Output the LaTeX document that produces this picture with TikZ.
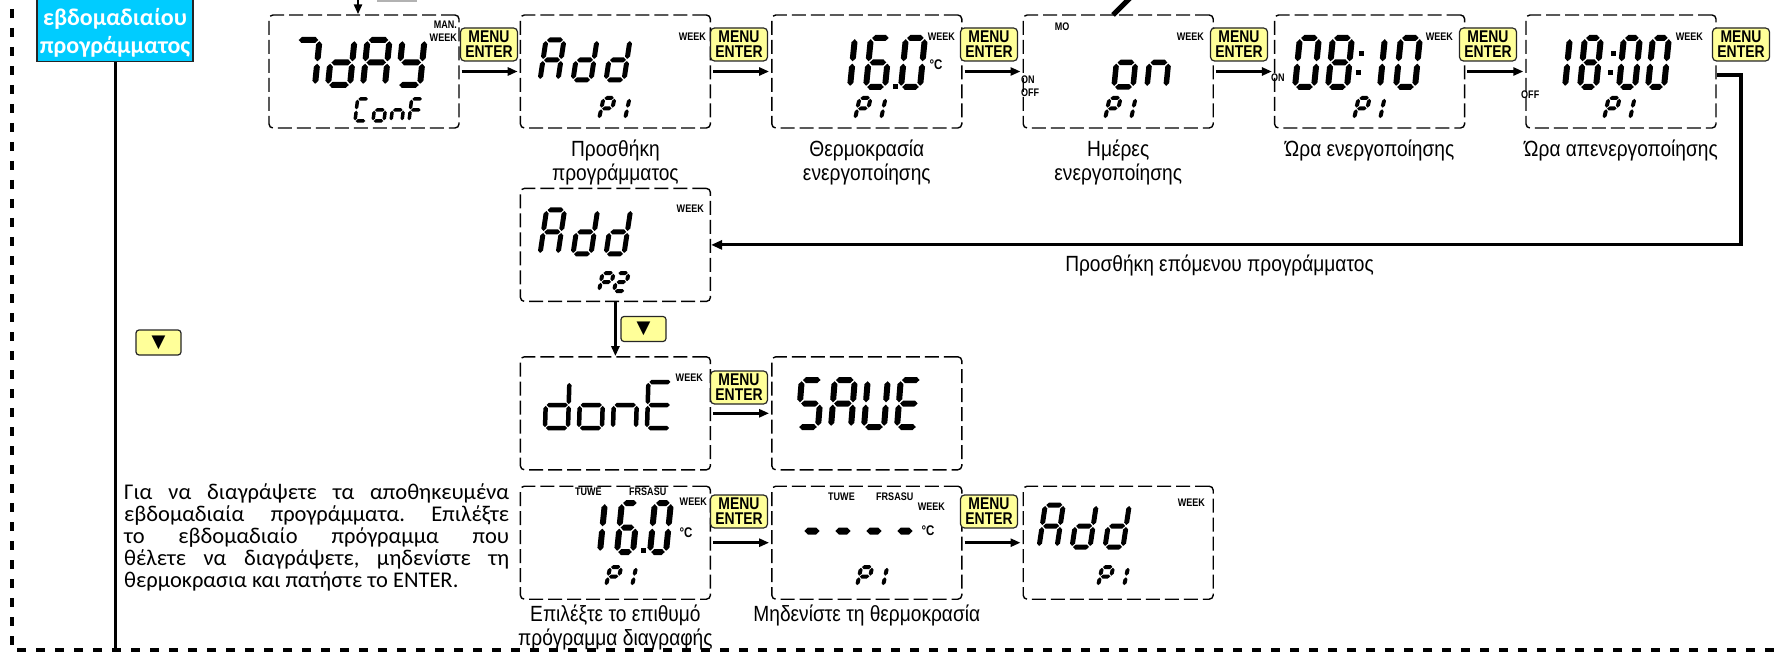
\documentclass[tikz,border=0pt]{standalone}
\usepackage{fontspec}
\setmainfont{Carlito}
\newfontfamily\narrowfont[FakeStretch=0.82]{Liberation Sans}
\newfontfamily\labelfont[FakeStretch=0.87]{Liberation Sans}
\newfontfamily\symbolfont{DejaVu Sans}
\usetikzlibrary{
  arrows.meta,
  positioning,
  calc,
}
\definecolor{btnyellow}{RGB}{255,255,153}
\definecolor{titlecyan}{RGB}{0,204,255}

% seven-segment helpers (local frame: x right, y up, one unit = 1pt)
\newcommand\lcdhseg[1]{%
  \fill (\lcdG,#1) -- (\lcdG+\lcdT/2,#1+\lcdT/2)
    -- (\lcdW-\lcdG-\lcdT/2,#1+\lcdT/2) -- (\lcdW-\lcdG,#1)
    -- (\lcdW-\lcdG-\lcdT/2,#1-\lcdT/2) -- (\lcdG+\lcdT/2,#1-\lcdT/2) -- cycle;}
\newcommand\lcdvseg[3]{%
  \fill (#1,#2+\lcdG) -- (#1+\lcdT/2,#2+\lcdG+\lcdT/2)
    -- (#1+\lcdT/2,#3-\lcdG-\lcdT/2) -- (#1,#3-\lcdG)
    -- (#1-\lcdT/2,#3-\lcdG-\lcdT/2) -- (#1-\lcdT/2,#2+\lcdG+\lcdT/2) -- cycle;}
\newcommand\lcdsega{\lcdhseg{\lcdHt}}
\newcommand\lcdsegg{\lcdhseg{\lcdHt/2}}
\newcommand\lcdsegd{\lcdhseg{0}}
\newcommand\lcdsegb{\lcdvseg{\lcdW}{\lcdHt/2}{\lcdHt}}
\newcommand\lcdsegc{\lcdvseg{\lcdW}{0}{\lcdHt/2}}
\newcommand\lcdsegf{\lcdvseg{0}{\lcdHt/2}{\lcdHt}}
\newcommand\lcdsege{\lcdvseg{0}{0}{\lcdHt/2}}
\newcommand\lcdglyph[2]{\expandafter\def\csname lcdglyph#1\endcsname{#2}}
\lcdglyph{0}{a,b,c,d,e,f}
\lcdglyph{1}{b,c}
\lcdglyph{2}{a,b,g,e,d}
\lcdglyph{6}{a,c,d,e,f,g}
\lcdglyph{7}{a,b,c}
\lcdglyph{8}{a,b,c,d,e,f,g}
\lcdglyph{A}{a,b,c,e,f,g}
\lcdglyph{C}{a,d,e,f}
\lcdglyph{d}{b,c,d,e,g}
\lcdglyph{E}{a,d,e,f,g}
\lcdglyph{F}{a,e,f,g}
\lcdglyph{n}{c,e,g}
\lcdglyph{o}{c,d,e,g}
\lcdglyph{P}{a,b,e,f,g}
\lcdglyph{S}{a,c,d,f,g}
\lcdglyph{U}{b,c,d,e,f}
\lcdglyph{Y}{b,c,d,f,g}
\lcdglyph{-}{g}
% #1 x, #2 baseline y, #3 width, #4 height, #5 stroke, #6 pitch, #7 slant, #8 glyphs
\newcommand\lcdword[8]{%
  \begin{scope}[shift={(#1,#2)}, x=1pt, y=1pt, xslant=#7]
    \def\lcdW{#3}\def\lcdHt{#4}\def\lcdT{#5}\pgfmathsetmacro\lcdG{0.2*#5}
    \foreach \lcdch [count=\lcdi from 0] in {#8} {
      \edef\lcdsegs{\csname lcdglyph\lcdch\endcsname}
      \begin{scope}[xshift=\lcdi*#6]
        \foreach \lcds in \lcdsegs {\csname lcdseg\lcds\endcsname}
      \end{scope}
    }
  \end{scope}}

\tikzset{
  lcdbox/.style={
    rectangle, draw, line width=1.4pt, dash pattern=on 14pt off 5pt,
    rounded corners=4pt, minimum width=190pt, minimum height=113pt, inner sep=0pt
  },
  menubtn/.style={
    rectangle, draw=black!85, line width=1.2pt, fill=btnyellow, rounded corners=4pt,
    minimum width=57pt, minimum height=33pt, inner sep=0pt, align=center,
    font=\narrowfont\bfseries\fontsize{17}{15}\selectfont
  },
  downbtn/.style={
    rectangle, draw=black!85, line width=1.2pt, fill=btnyellow, rounded corners=3pt,
    minimum width=45pt, minimum height=25pt, inner sep=0pt,
    font=\symbolfont\fontsize{18}{18}\selectfont
  },
  lcdtag/.style={inner sep=0pt, font=\narrowfont\bfseries\fontsize{11}{11}\selectfont},
  degtag/.style={inner sep=0pt, font=\narrowfont\bfseries\fontsize{14}{14}\selectfont},
  steplabel/.style={inner sep=0pt, align=center, font=\labelfont\fontsize{22}{24}\selectfont},
  notetext/.style={inner sep=0pt, text width=385pt, align=justify, font=\fontsize{22.5}{22}\selectfont},
  titlebox/.style={
    rectangle, draw=black!85, line width=1.2pt, fill=titlecyan, text=white,
    font=\bfseries\fontsize{24}{28}\selectfont, align=center,
    minimum width=156pt, inner xsep=2pt, inner ysep=4pt
  },
  steparrow/.style={-{Triangle[length=10pt,width=8pt]}, line width=2.6pt, shorten <=2pt, shorten >=2pt},
  looparrow/.style={-{Triangle[length=11pt,width=9pt]}, line width=3.2pt},
  railline/.style={line width=3pt},
  framedash/.style={line width=4pt, dash pattern=on 9pt off 10pt},
}

\begin{document}
\begin{tikzpicture}[x=1pt, y=-1pt]
  \useasboundingbox (0,0) rectangle (1779,652);

  % ── Title and rail ──
  \node[titlebox, anchor=south] (title) at (115,62) {\mbox{}\\εβδομαδιαίου\\προγράμματος};
  \coordinate (railEnd) at (115,660);
  \draw[railline] (title.south) -- (railEnd);

  % ── Row 1: program entry screens ──
  \node[lcdbox] (lcd1) at (364,71.5) {};
  \node[lcdbox, right=60pt of lcd1] (lcd2) {};
  \node[lcdbox, right=60pt of lcd2] (lcd3) {};
  \node[lcdbox, right=60pt of lcd3] (lcd4) {};
  \node[lcdbox, right=60pt of lcd4] (lcd5) {};
  \node[lcdbox, right=60pt of lcd5] (lcd6) {};

  % ── Row 2-4: next program, save, delete ──
  \node[lcdbox, below=59pt of lcd2] (add2) {};
  \node[lcdbox, below=54pt of add2] (done) {};
  \node[lcdbox, right=60pt of done] (save) {};
  \node[lcdbox, below=15pt of done] (del1) {};
  \node[lcdbox, right=60pt of del1] (del2) {};
  \node[lcdbox, right=60pt of del2] (del3) {};

  % ── Screen contents ──
  \lcdword{293}{85}{22}{45}{6}{35}{0.1}{7,d,A,Y}
  \lcdword{355}{121}{11}{22}{3.5}{18}{0.12}{C,o,n,F}
  \node[lcdtag, anchor=east] (man1) at (457,25) {MAN.};
  \node[lcdtag, anchor=east] (week1) at (457,38) {WEEK};

  \lcdword{540}{80}{18}{40}{5}{33}{0.15}{A,d,d}
  \lcdword{599}{119}{11}{21}{4}{15}{0.22}{P,1}
  \node[lcdtag, anchor=east] (week2) at (706,37) {WEEK};

  \lcdword{831}{87}{19}{49}{6}{35}{0.1}{1,6,0}
  \fill (893,84) rectangle (898,89);
  \lcdword{855}{119}{11}{21}{4}{15}{0.22}{P,1}
  \node[lcdtag, anchor=east] (week3) at (955,37) {WEEK};
  \node[degtag] (deg3) at (936,65) {°C};

  \node[lcdtag] (mo4) at (1062,27) {MO};
  \node[lcdtag, anchor=west] (on4) at (1021,80) {ON};
  \node[lcdtag, anchor=west] (off4) at (1021,93) {OFF};
  \lcdword{1114}{87}{19}{49}{5.5}{33}{0.1}{o,n}
  \lcdword{1105}{119}{11}{21}{4}{15}{0.22}{P,1}
  \node[lcdtag, anchor=east] (week4) at (1204,37) {WEEK};

  \node[lcdtag, anchor=west] (on5) at (1271,78) {ON};
  \lcdword{1295}{87}{19}{49}{6}{33}{0.1}{0,8}
  \fill (1359,51) rectangle (1364,56);
  \fill (1356,70) rectangle (1361,75);
  \lcdword{1361}{87}{19}{49}{6}{35}{0.1}{1,0}
  \lcdword{1354}{119}{11}{21}{4}{15}{0.22}{P,1}
  \node[lcdtag, anchor=east] (week5) at (1453,37) {WEEK};

  \node[lcdtag, anchor=west] (off6) at (1521,95) {OFF};
  \lcdword{1549}{87}{16}{49}{6}{31}{0.1}{1,8}
  \fill (1611,51) rectangle (1616,56);
  \fill (1608,70) rectangle (1613,75);
  \lcdword{1619}{87}{16}{49}{6}{29}{0.1}{0,0}
  \lcdword{1604}{119}{11}{21}{4}{15}{0.22}{P,1}
  \node[lcdtag, anchor=east] (week6) at (1703,37) {WEEK};

  \lcdword{540}{254}{18}{44}{5}{33}{0.15}{A,d,d}
  \lcdword{599}{291}{11}{18}{4}{15}{0.2}{P,2}
  \node[lcdtag, anchor=east] (weekA) at (704,209) {WEEK};

  \lcdword{545}{428}{23}{46}{4.5}{34}{0.03}{d,o,n,E}
  \node[lcdtag, anchor=east] (weekD) at (703,378) {WEEK};
  \lcdword{798}{427}{20}{47}{6}{33}{0.08}{S,A,U,E}

  \node[lcdtag, anchor=west] (tuwe1) at (575,492) {TUWE};
  \node[lcdtag, anchor=west] (frsa1) at (629,492) {FRSASU};
  \node[lcdtag, anchor=east] (weekX1) at (707,502) {WEEK};
  \lcdword{584}{552}{16}{49}{6}{33}{0.1}{1,6,0}
  \fill (641,548) rectangle (646,553);
  \node[degtag] (degX1) at (686,533) {°C};
  \lcdword{606}{586}{11}{19}{4}{15}{0.22}{P,1}

  \node[lcdtag, anchor=west] (tuwe2) at (828,497) {TUWE};
  \node[lcdtag, anchor=west] (frsa2) at (876,497) {FRSASU};
  \node[lcdtag, anchor=east] (weekX2) at (945,507) {WEEK};
  \lcdword{803}{541}{18}{20}{7}{31}{0}{-,-,-,-}
  \node[degtag] (degX2) at (928,531) {°C};
  \lcdword{857}{586}{11}{19}{4}{15}{0.22}{P,1}

  \lcdword{1039}{547}{18}{42}{5}{33}{0.15}{A,d,d}
  \lcdword{1098}{586}{11}{19}{4}{15}{0.22}{P,1}
  \node[lcdtag, anchor=east] (weekX3) at (1205,503) {WEEK};

  % ── MENU / ENTER keys ──
  \node[menubtn] (key1) at (489,44.5)   {MENU\\ENTER};
  \node[menubtn] (key2) at (739,44.5)   {MENU\\ENTER};
  \node[menubtn] (key3) at (989,44.5)   {MENU\\ENTER};
  \node[menubtn] (key4) at (1239,44.5)  {MENU\\ENTER};
  \node[menubtn] (key5) at (1488,44.5)  {MENU\\ENTER};
  \node[menubtn] (key6) at (1741,44.5)  {MENU\\ENTER};
  \node[menubtn] (key7) at (739,387.5)  {MENU\\ENTER};
  \node[menubtn] (key8) at (739,511.5)  {MENU\\ENTER};
  \node[menubtn] (key9) at (989,511.5)  {MENU\\ENTER};

  % ── Down keys ──
  \node[downbtn] (downL) at (158.5,342.5) {▼};
  \node[downbtn] (downM) at (643.5,329)   {▼};

  % ── Step arrows ──
  \draw[steparrow] (lcd1) -- (lcd2);
  \draw[steparrow] (lcd2) -- (lcd3);
  \draw[steparrow] (lcd3) -- (lcd4);
  \draw[steparrow] (lcd4) -- (lcd5);
  \draw[steparrow] (lcd5) -- (lcd6);
  \draw[steparrow] (done) -- (save);
  \draw[steparrow] (del1) -- (del2);
  \draw[steparrow] (del2) -- (del3);
  \draw[steparrow, shorten <=0pt, shorten >=0pt] (add2) -- (done);

  % ── Loop back to next program ──
  \coordinate (loopR) at (1741,150);
  \draw[looparrow] ([yshift=-3.5pt]lcd6.east) -| (loopR) |- (add2.east);

  % ── Lines entering from above ──
  \coordinate (feedTop) at (358,-5);
  \draw[steparrow, shorten <=0pt, shorten >=0pt] (feedTop) -- (feedTop |- lcd1.north);
  \draw[gray!60, line width=1.2pt] (377,1) -- (417,1);
  \coordinate (slashTop) at (1132,-4);
  \coordinate (slashEnd) at (1113,15);
  \draw[line width=5pt] (slashTop) -- (slashEnd);

  % ── Captions ──
  \node[steplabel, below=11pt of lcd2] (lab2) {Προσθήκη\\προγράμματος};
  \node[steplabel, below=11pt of lcd3] (lab3) {Θερμοκρασία\\ενεργοποίησης};
  \node[steplabel, below=11pt of lcd4] (lab4) {Ημέρες\\ενεργοποίησης};
  \node[steplabel, below=11pt of lcd5] (lab5) {Ώρα ενεργοποίησης};
  \node[steplabel, below=11pt of lcd6] (lab6) {Ώρα απενεργοποίησης};
  \node[steplabel, anchor=north] (labLoop) at (1219.5,255) {Προσθήκη επόμενου προγράμματος};
  \node[steplabel, below=5pt of del1] (labD1) {Επιλέξτε το επιθυμό\\πρόγραμμα διαγραφής};
  \node[steplabel, below=5pt of del2] (labD2) {Μηδενίστε τη θερμοκρασία};

  \node[notetext, anchor=north west] (delNote) at (124,483)
    {\hyphenpenalty=10000\tolerance=9999\frenchspacing
     Για να διαγράψετε τα αποθηκευμένα\linebreak
     εβδομαδιαία προγράμματα. Επιλέξτε\linebreak
     το εβδομαδιαίο πρόγραμμα που\linebreak
     θέλετε να διαγράψετε, μηδενίστε τη\linebreak
     θερμοκρασια και πατήστε το ENTER.};

  % ── Outer dashed frame ──
  \draw[framedash] (12,-10) -- (12,650) -- (1790,650);

\end{tikzpicture}
\end{document}
